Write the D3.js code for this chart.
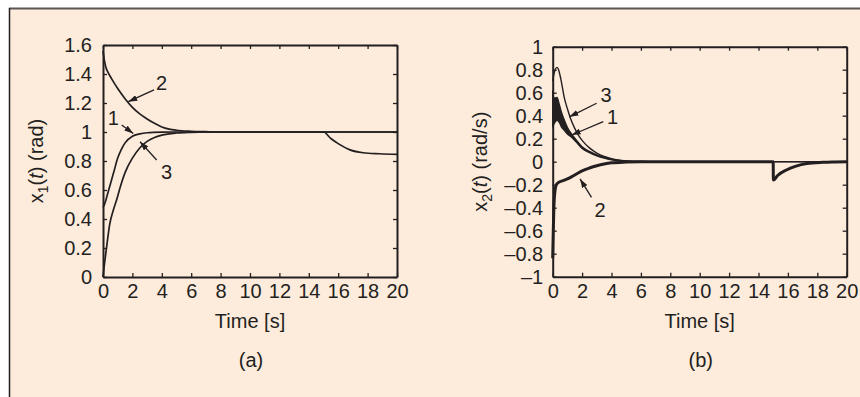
<!DOCTYPE html>
<html>
<head>
<meta charset="utf-8">
<script src="https://cdn.jsdelivr.net/npm/d3@7"></script>
<style>
    body { margin: 0; background: #fff; }
    svg { display: block; font-family: "Liberation Sans", Arial, sans-serif; }
    .tick text { font-family: "Liberation Sans", Arial, sans-serif; font-size: 20px; fill: #231f20; }
    .title { font-size: 20px; fill: #231f20; }
</style>
</head>
<body>
<svg id="chart" width="860" height="397"></svg>
<script>
const xTicks = [0, 2, 4, 6, 8, 10, 12, 14, 16, 18, 20];
const x1Ticks = [0, 0.2, 0.4, 0.6, 0.8, 1, 1.2, 1.4, 1.6];
const x2Ticks = [-1, -0.8, -0.6, -0.4, -0.2, 0, 0.2, 0.4, 0.6, 0.8, 1];

// panel (a): x1(t)
const x1Time1 = [0, 0.1, 0.25, 0.5, 0.75, 1, 1.25, 1.5, 2, 2.5, 3, 4, 5, 20];
const x1Value1 = [0.48, 0.5, 0.55, 0.64, 0.73, 0.82, 0.88, 0.925, 0.97, 0.987, 0.995, 0.999, 1, 1];
const x1Time2 = [0, 0.1, 0.2, 0.35, 0.6, 1, 1.5, 2, 2.5, 3, 3.5, 4, 4.5, 5, 6, 7, 8, 15, 15.5, 16, 16.8, 17.7, 18.8, 20];
const x1Value2 = [1.56, 1.49, 1.445, 1.41, 1.365, 1.3, 1.23, 1.17, 1.125, 1.09, 1.06, 1.035, 1.02, 1.012, 1.005, 1.002, 1, 1, 0.955, 0.92, 0.877, 0.857, 0.85, 0.846];
const x1Time3 = [0, 0.1, 0.25, 0.45, 0.7, 0.95, 1.2, 1.5, 2, 2.5, 3, 3.5, 4, 5, 6, 7, 20];
const x1Value3 = [0, 0.09, 0.21, 0.36, 0.46, 0.54, 0.63, 0.72, 0.82, 0.89, 0.935, 0.962, 0.978, 0.993, 0.998, 1, 1];

// panel (b): x2(t), curve 1 chatters so it is kept as a band
const x2Time1 = [0, 0.1, 0.3, 0.45, 0.6, 0.8, 1, 1.3, 1.6, 2, 2.5, 3, 3.5, 4, 5, 6, 7, 20];
const x2Upper1 = [0.62, 0.55, 0.56, 0.5, 0.43, 0.36, 0.3, 0.24, 0.19, 0.13, 0.09, 0.06, 0.038, 0.022, 0.008, 0.003, 0.001, 0];
const x2Lower1 = [0.3, 0.33, 0.36, 0.34, 0.3, 0.27, 0.24, 0.21, 0.17, 0.115, 0.078, 0.05, 0.03, 0.016, 0.005, 0.002, 0, 0];
const x2Time2 = [0, 0.04, 0.08, 0.15, 0.25, 0.4, 0.7, 1, 1.3, 1.7, 2, 2.5, 3, 3.5, 4, 5, 6, 15, 15.01, 15.3, 15.9, 16.5, 17.3, 18.4, 19, 20];
const x2Value2 = [-0.84, -0.6, -0.4, -0.26, -0.2, -0.18, -0.165, -0.15, -0.13, -0.1, -0.08, -0.055, -0.035, -0.02, -0.01, -0.003, 0, 0, -0.16, -0.12, -0.072, -0.04, -0.015, -0.005, -0.002, 0];
const x2Time3 = [0, 0.1, 0.3, 0.4, 0.55, 0.8, 1, 1.2, 1.5, 1.8, 2.1, 2.5, 3, 3.5, 4, 4.5, 5, 6, 7, 20];
const x2Value3 = [0.7, 0.77, 0.82, 0.8, 0.72, 0.55, 0.46, 0.38, 0.29, 0.22, 0.17, 0.12, 0.075, 0.045, 0.026, 0.014, 0.007, 0.002, 0, 0];

// curve labels, in data units: label position, arrow tail, arrow head
const notesA = [
    {label: "2", at: [3.99, 1.338], from: [3.47, 1.29], to: [1.72, 1.209]},
    {label: "1", at: [0.7, 1.097], from: [1.27, 1.048], to: [2.06, 0.99]},
    {label: "3", at: [4.33, 0.726], from: [3.65, 0.807], to: [2.52, 0.933]},
];
const notesB = [
    {label: "3", at: [3.63, 0.58], from: [2.99, 0.508], to: [1.13, 0.39]},
    {label: "1", at: [4.08, 0.39], from: [3.44, 0.348], to: [1.29, 0.232]},
    {label: "2", at: [3.22, -0.42], from: [2.64, -0.311], to: [1.86, -0.15]},
];

const INK = "#231f20";
const svg = d3.select("#chart");

// beige panel with its border
svg.append("rect")
    .attr("x", 9).attr("y", 8).attr("width", 851).attr("height", 389)
    .attr("fill", "#fdebdc");
svg.append("line")
    .attr("x1", 9).attr("x2", 860).attr("y1", 8.5).attr("y2", 8.5)
    .attr("stroke", "#5a5556").attr("stroke-width", 2);
svg.append("line")
    .attr("x1", 9.5).attr("x2", 9.5).attr("y1", 8).attr("y2", 397)
    .attr("stroke", INK).attr("stroke-width", 1.5);

svg.append("defs").append("marker")
    .attr("id", "head")
    .attr("viewBox", "0 0 9 6")
    .attr("refX", 9).attr("refY", 3)
    .attr("markerWidth", 9).attr("markerHeight", 6)
    .attr("markerUnits", "userSpaceOnUse")
    .attr("orient", "auto")
    .append("path")
    .attr("d", "M0,0L9,3L0,6Z")
    .attr("fill", INK);

function fmt(d) {
    return String(d).replace("-", "\u2013");
}

function drawPanel(box, yDomain, yTicks, opt) {
    const x = d3.scaleLinear().domain([0, 20]).range([box.left, box.right]);
    const y = d3.scaleLinear().domain(yDomain).range([box.bottom, box.top]);
    const g = svg.append("g");

    g.append("g")
        .attr("transform", `translate(0, ${box.bottom})`)
        .call(d3.axisBottom(x).tickValues(xTicks).tickSizeInner(-4).tickSizeOuter(0).tickPadding(7).tickFormat(fmt));
    g.append("g")
        .attr("transform", `translate(0, ${box.top})`)
        .call(d3.axisTop(x).tickValues(xTicks).tickSizeInner(-4).tickSizeOuter(0).tickFormat(""));
    g.append("g")
        .attr("transform", `translate(${box.left}, 0)`)
        .call(d3.axisLeft(y).tickValues(yTicks).tickSizeInner(-4).tickSizeOuter(0).tickPadding(opt.pad).tickFormat(fmt));
    g.append("g")
        .attr("transform", `translate(${box.right}, 0)`)
        .call(d3.axisRight(y).tickValues(yTicks).tickSizeInner(-4).tickSizeOuter(0).tickFormat(""));

    g.selectAll(".domain").attr("stroke", INK).attr("stroke-width", 2);
    g.selectAll(".tick line").attr("stroke", INK).attr("stroke-width", 1.3);

    const line = d3.line()
        .x(d => x(d[0]))
        .y(d => y(d[1]))
        .curve(d3.curveMonotoneX);
    const area = d3.area()
        .x(d => x(d[0]))
        .y0(d => y(d[1]))
        .y1(d => y(d[2]))
        .curve(d3.curveMonotoneX);

    opt.bands.forEach(b => {
        g.append("path")
            .datum(d3.zip(b.t, b.lo, b.hi))
            .attr("d", area)
            .attr("fill", INK)
            .attr("stroke", INK)
            .attr("stroke-width", 1.2);
    });

    opt.series.forEach(s => {
        g.append("path")
            .datum(d3.zip(s.t, s.v))
            .attr("d", line)
            .attr("fill", "none")
            .attr("stroke", INK)
            .attr("stroke-width", s.w)
            .attr("stroke-linejoin", "round");
    });

    opt.notes.forEach(n => {
        g.append("line")
            .attr("x1", x(n.from[0])).attr("y1", y(n.from[1]))
            .attr("x2", x(n.to[0])).attr("y2", y(n.to[1]))
            .attr("stroke", INK)
            .attr("stroke-width", 1.3)
            .attr("marker-end", "url(#head)");
        g.append("text")
            .attr("class", "title")
            .attr("x", x(n.at[0]))
            .attr("y", y(n.at[1]))
            .attr("dy", "0.35em")
            .attr("text-anchor", "middle")
            .text(n.label);
    });

    const cx = (box.left + box.right) / 2;
    g.append("text")
        .attr("class", "title")
        .attr("x", cx).attr("y", 328)
        .attr("text-anchor", "middle")
        .text("Time [s]");
    g.append("text")
        .attr("class", "title")
        .attr("x", cx + 1).attr("y", 367)
        .attr("text-anchor", "middle")
        .text(opt.letter);

    const yl = g.append("text")
        .attr("class", "title")
        .attr("text-anchor", "middle")
        .attr("transform", `translate(${opt.labelX}, ${(box.top + box.bottom) / 2}) rotate(-90)`);
    yl.append("tspan").text("x");
    yl.append("tspan").attr("font-size", 14).attr("dy", 5).text(opt.sub);
    yl.append("tspan").attr("dy", -5).text("(");
    yl.append("tspan").attr("font-style", "italic").text("t");
    yl.append("tspan").text(") " + opt.unit);
}

drawPanel({left: 103, right: 397, top: 45, bottom: 277}, [0, 1.6], x1Ticks, {
    pad: 11,
    labelX: 43,
    sub: "1",
    unit: "(rad)",
    letter: "(a)",
    bands: [],
    series: [
        {t: x1Time1, v: x1Value1, w: 1.7},
        {t: x1Time2, v: x1Value2, w: 1.7},
        {t: x1Time3, v: x1Value3, w: 1.7},
    ],
    notes: notesA,
});

drawPanel({left: 552.7, right: 846.7, top: 46.7, bottom: 276.7}, [-1, 1], x2Ticks, {
    pad: 9.5,
    labelX: 487,
    sub: "2",
    unit: "(rad/s)",
    letter: "(b)",
    bands: [{t: x2Time1, lo: x2Lower1, hi: x2Upper1}],
    series: [
        {t: x2Time3, v: x2Value3, w: 1.4},
        {t: x2Time2, v: x2Value2, w: 3},
    ],
    notes: notesB,
});
</script>
</body>
</html>
